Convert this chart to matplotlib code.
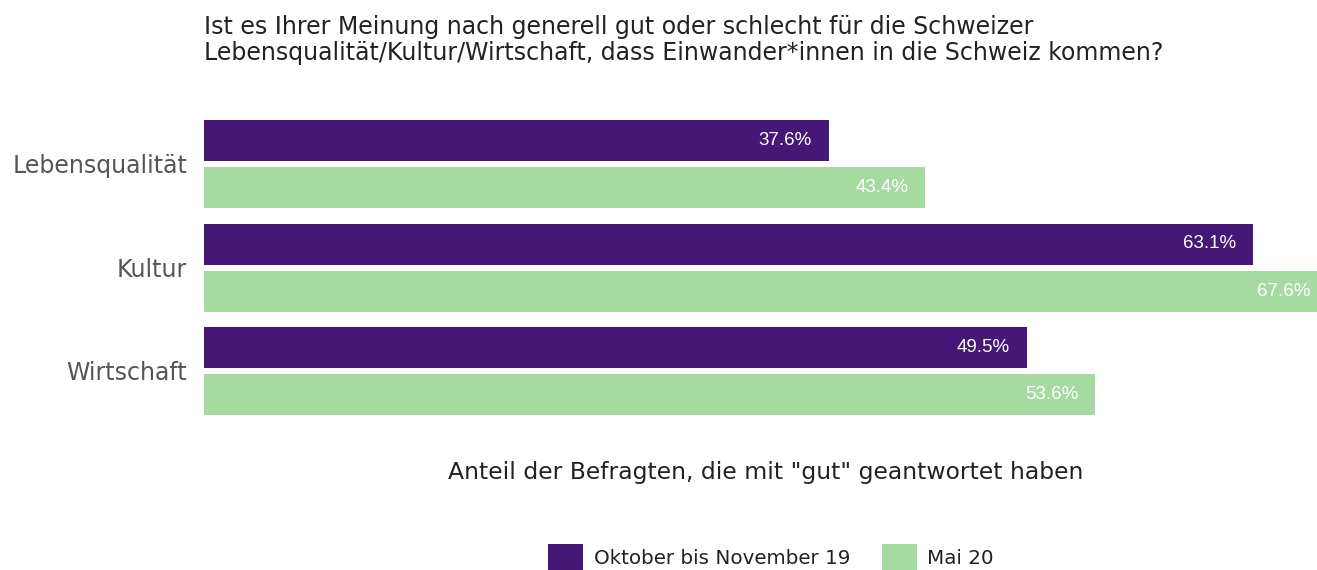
import matplotlib
matplotlib.use("Agg")
import matplotlib.pyplot as plt
from matplotlib.patches import Patch
import numpy as np

categories = ["Lebensqualität", "Kultur", "Wirtschaft"]
series_names = ["Oktober bis November 19", "Mai 20"]
values_okt = [37.6, 63.1, 49.5]
values_mai = [43.4, 67.6, 53.6]
colors = ["#451777", "#a5dba0"]

title_lines = ["Ist es Ihrer Meinung nach generell gut oder schlecht für die Schweizer",
               "Lebensqualität/Kultur/Wirtschaft, dass Einwander*innen in die Schweiz kommen?"]
xlabel = 'Anteil der Befragten, die mit "gut" geantwortet haben'

W, H = 1317, 570
fig = plt.figure(figsize=(W / 100, H / 100), dpi=100)
FONT = "DejaVu Sans"

ax_left, ax_right = 204, 1317
ax_top, ax_bot = 112.25, 422.75
ax = fig.add_axes([ax_left / W, (H - ax_bot) / H, (ax_right - ax_left) / W, (ax_bot - ax_top) / H])

px_per_unit = (829 - 204) / 37.6
ax.set_xlim(0, (ax_right - ax_left) / px_per_unit)
ax.set_ylim(2.5, -0.5)

y = np.arange(len(categories))
bh = 41 / 103.5
off = 23.5 / 103.5
for vals, col, d in [(values_okt, colors[0], -off), (values_mai, colors[1], off)]:
    ax.barh(y + d, vals, height=bh, color=col, edgecolor="none")
    for yi, v in zip(y + d, vals):
        ax.annotate(f"{v:.1f}%", xy=(v, yi), xytext=(-17, 0), textcoords="offset pixels",
                    ha="right", va="center", color="white", fontsize=13.5,
                    family="Liberation Sans", annotation_clip=False, clip_on=False)

ax.set_yticks(y)
ax.set_yticklabels(categories, family=FONT, fontsize=17, color="#555555")
ax.tick_params(axis="y", length=0, pad=12.2)
ax.set_xticks([])
for s in ax.spines.values():
    s.set_visible(False)

for line, base in zip(title_lines, [34, 60]):
    fig.text(204 / W, 1 - base / H, line, ha="left", va="baseline", family=FONT,
             fontsize=17, color="#222222")

fig.text(766 / W, 1 - 472 / H, xlabel, ha="center", va="center", family=FONT,
         fontsize=16.9, color="#222222")

handles = [Patch(facecolor=c, edgecolor="none") for c in colors]
fs = 14.3
leg = fig.legend(handles, series_names, loc="center", bbox_to_anchor=(771 / W, 1 - 558 / H),
                 ncol=2, frameon=False, handlelength=1.75, handleheight=1.75,
                 handletextpad=0.55, columnspacing=1.6, borderpad=0, borderaxespad=0,
                 prop={"family": FONT, "size": fs})
for t in leg.get_texts():
    t.set_color("#222222")

fig.savefig("out.png", dpi=100)
